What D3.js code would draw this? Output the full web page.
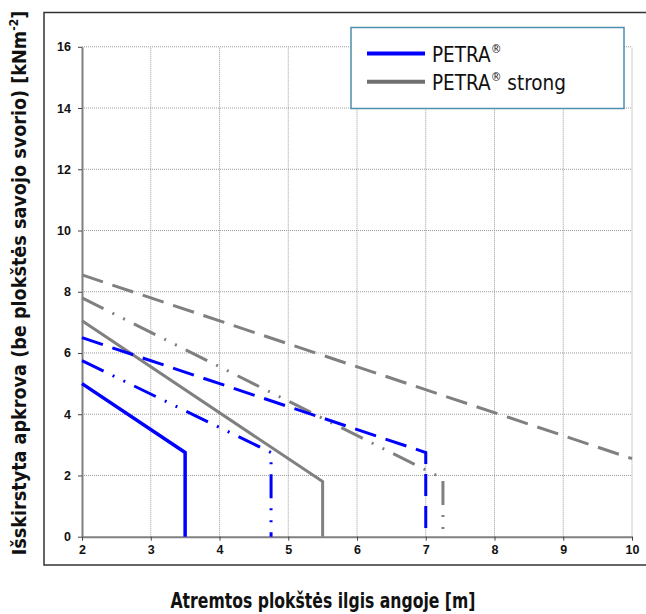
<!DOCTYPE html>
<html>
<head>
<meta charset="utf-8">
<script src="https://cdn.jsdelivr.net/npm/d3@7"></script>
<style>
  html, body { margin: 0; padding: 0; background: #fff; }
  svg { display: block; }
</style>
</head>
<body>
<svg id="chart" width="646" height="614"></svg>
<script>
// ── data (span in m, load in kNm-2) ──────────────────────────────
const xTicks = [2, 3, 4, 5, 6, 7, 8, 9, 10];
const yTicks = [0, 2, 4, 6, 8, 10, 12, 14, 16];

const petraSolid     = [[2, 5.0], [3.5, 2.75], [3.5, 0]];
const petraDashDot   = [[2, 5.75], [4.75, 2.75], [4.75, 0]];
const petraDashed    = [[2, 6.5], [7, 2.75], [7, 0]];
const strongSolid    = [[2, 7.05], [5.5, 1.8], [5.5, 0]];
const strongDashDot  = [[2, 7.8], [7.25, 1.9], [7.25, 0]];
const strongDashed   = [[2, 8.55], [10, 2.55]];

const legendNames = ['PETRA', 'PETRA'];
const legendSuffix = ['', ' strong'];

// ── layout ───────────────────────────────────────────────────────
const BLUE = '#0000ff', GREY = '#808080';
const FONT_C = '"DejaVu Sans Condensed", "DejaVu Sans", sans-serif';
const svg = d3.select('#chart');

const x = d3.scaleLinear().domain([2, 10]).range([82, 632]);
const y = d3.scaleLinear().domain([0, 16]).range([536.7, 46.8]);

// outer frame (right edge runs off the picture)
svg.append('rect')
  .attr('x', 44).attr('y', 12.5).attr('width', 606).attr('height', 552.5)
  .attr('fill', 'none').attr('stroke', '#333').attr('stroke-width', 1.5);

// grid
const grid = svg.append('g').attr('stroke', '#9a9a9a').attr('stroke-width', 1)
  .attr('stroke-dasharray', '1,1');
grid.selectAll('.vg').data(xTicks.slice(1)).join('line')
  .attr('x1', d => x(d)).attr('x2', d => x(d))
  .attr('y1', y(0)).attr('y2', y(16));
grid.selectAll('.hg').data(yTicks.slice(1)).join('line')
  .attr('x1', x(2)).attr('x2', x(10))
  .attr('y1', d => y(d)).attr('y2', d => y(d));

// axes
const yAxis = svg.append('g').attr('transform', `translate(${x(2)},0)`)
  .call(d3.axisLeft(y).tickValues(yTicks).tickSize(4).tickPadding(7).tickSizeOuter(0));
const xAxis = svg.append('g').attr('transform', `translate(0,${y(0)})`)
  .call(d3.axisBottom(x).tickValues(xTicks).tickSize(4).tickPadding(4).tickSizeOuter(0));
[xAxis, yAxis].forEach(a => {
  a.select('.domain').attr('stroke', GREY).attr('stroke-width', 2);
  a.selectAll('.tick line').attr('stroke', '#444').attr('stroke-width', 1);
  a.selectAll('.tick text')
    .attr('font-family', '"Liberation Sans", Arial, sans-serif')
    .attr('font-weight', 'bold').attr('font-size', '12.5px').attr('fill', '#111');
});

// series
const line = d3.line().x(d => x(d[0])).y(d => y(d[1]));
const DASH = '22,10';
const DASHDOT = '24,10,2,10,2,10';
const series = [
  { data: strongDashed,  color: GREY, w: 3, dash: DASH },
  { data: strongDashDot, color: GREY, w: 3, dash: DASHDOT },
  { data: strongSolid,   color: GREY, w: 3, dash: null },
  { data: petraDashed,   color: BLUE, w: 3, dash: DASH },
  { data: petraDashDot,  color: BLUE, w: 3, dash: DASHDOT },
  { data: petraSolid,    color: BLUE, w: 3.5, dash: null }
];
svg.append('g').selectAll('path').data(series).join('path')
  .attr('d', d => line(d.data))
  .attr('fill', 'none')
  .attr('stroke', d => d.color)
  .attr('stroke-width', d => d.w)
  .attr('stroke-linejoin', 'miter')
  .attr('stroke-dasharray', d => d.dash);

// legend
const leg = svg.append('g');
leg.append('rect')
  .attr('x', 351).attr('y', 27.5).attr('width', 273).attr('height', 81)
  .attr('fill', '#fff').attr('stroke', '#4f8fae').attr('stroke-width', 1.5);
const legColors = [BLUE, '#707070'];
const li = leg.selectAll('.li').data(legendNames).join('g')
  .attr('transform', (d, i) => `translate(0,${53.5 + i * 28.3})`);
li.append('line').attr('x1', 367).attr('x2', 425)
  .attr('stroke', (d, i) => legColors[i]).attr('stroke-width', 4);
const lt = li.append('text').attr('x', 432).attr('y', 8.5)
  .attr('font-family', FONT_C)
  .attr('font-size', '20.5px').attr('fill', '#111');
lt.append('tspan').text(d => d);
lt.append('tspan').attr('font-size', '12px').attr('dy', -9).text('®');
lt.append('tspan').attr('dy', 9).text((d, i) => legendSuffix[i]);

// axis titles
svg.append('text')
  .attr('x', 323).attr('y', 608)
  .attr('text-anchor', 'middle')
  .attr('font-family', FONT_C).attr('font-weight', 'bold')
  .attr('font-size', '22px').attr('fill', '#111')
  .attr('textLength', 305).attr('lengthAdjust', 'spacingAndGlyphs')
  .text('Atremtos plokštės ilgis angoje [m]');

const yt = svg.append('text')
  .attr('transform', 'translate(26,283) rotate(-90)')
  .attr('text-anchor', 'middle')
  .attr('font-family', FONT_C).attr('font-weight', 'bold')
  .attr('font-size', '19.6px').attr('fill', '#111');
yt.append('tspan').text('Išskirstyta apkrova (be plokštės savojo svorio)  [kNm');
yt.append('tspan').attr('font-size', '12px').attr('dy', -8).text('-2');
yt.append('tspan').attr('dy', 8).text(']');
</script>
</body>
</html>
